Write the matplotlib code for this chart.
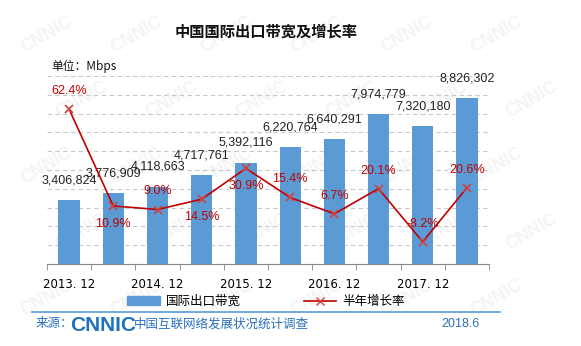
import matplotlib
matplotlib.use("Agg")
import matplotlib.pyplot as plt
from matplotlib.lines import Line2D
from matplotlib.patches import Patch

plt.rcParams['font.family'] = ['Liberation Sans', 'Noto Sans CJK SC', 'DejaVu Sans']

# datos
periodos = ['2013.12', '2014.06', '2014.12', '2015.06', '2015.12', '2016.06',
            '2016.12', '2017.06', '2017.12', '2018.06']
etiquetas_x = ['2013. 12', '', '2014. 12', '', '2015. 12', '', '2016. 12', '', '2017. 12', '']
ancho_banda = [3406824, 3776909, 4118663, 4717761, 5392116, 6220764,
               6640291, 7974779, 7320180, 8826302]
crecimiento = [62.4, 10.9, 9.0, 14.5, 30.9, 15.4, 6.7, 20.1, -8.2, 20.6]
# arriba (1) o abajo (-1) del punto
pos_pct = [1, -1, 1, -1, -1, 1, 1, 1, 1, 1]

azul = '#5b9bd5'
rojo = '#c00000'

fig = plt.figure(figsize=(5.81, 3.46), dpi=100)

# marca de agua (muy tenue, detras de todo, dentro de la figura)
for fila in range(5):
    for col in range(6):
        fig.text(0.08 + col * 0.155 + (fila % 2) * 0.06, 0.9 - fila * 0.19, 'CNNIC',
                 fontsize=13, fontweight='bold', color='#f4f4f4', rotation=30,
                 ha='center', va='center', zorder=-5)

ax = fig.add_axes([0.0809, 0.237, 0.7608, 0.543])
ax.patch.set_visible(False)
x = list(range(len(periodos)))
ax.bar(x, ancho_banda, width=0.48, color=azul, zorder=2)
ax.set_xlim(-0.5, 9.5)
ax.set_ylim(0, 10000000)
ax.set_yticks([i * 1000000 for i in range(1, 11)])
for s in ['top', 'right', 'left']:
    ax.spines[s].set_visible(False)
ax.spines['bottom'].set_color('#888888')
ax.set_xticks(x)
ax.set_xticklabels(etiquetas_x, fontsize=8.5, fontfamily=['DejaVu Sans'])
ax.set_xticks([i - 0.5 for i in range(11)], minor=True)

for xi, v in zip(x, ancho_banda):
    ax.annotate(f'{v:,}', (xi, v), xytext=(0, 10), textcoords='offset points',
                ha='center', va='bottom', fontsize=9, color='#222222')

ax2 = ax.twinx()
ax2.plot(x, crecimiento, color=rojo, linewidth=1.2, marker='x', markersize=6,
         markeredgecolor='#d04040', markeredgewidth=1.2, zorder=3)
ax2.set_ylim(-20, 80)
ax2.axis('off')
for xi, v, p in zip(x, crecimiento, pos_pct):
    ax2.annotate(f'{v}%', (xi, v), xytext=(0, 13 * p), textcoords='offset points',
                 ha='center', va='center', fontsize=9, color=rojo)

# twinx vuelve a poner los ticks de la izquierda, asi que se ajusta despues
ax.tick_params(axis='y', left=False, labelleft=False, right=False, labelright=False)
ax.tick_params(axis='x', which='major', length=0, pad=10)
ax.tick_params(axis='x', which='minor', length=4, color='#888888')
ax.yaxis.grid(True, linestyle=(0, (4, 3)), color='#c8c8c8', linewidth=0.8)
ax.set_axisbelow(True)

fig.text(0.458, 0.908, '中国国际出口带宽及增长率', ha='center', va='center',
         fontsize=11, fontweight='bold', color='#111111')
fig.text(0.088, 0.809, '单位：Mbps', ha='left', va='center', fontsize=8.5,
         fontfamily=['Noto Sans CJK SC'], color='#111111')

handles = [Patch(color=azul),
           Line2D([0], [0], color=rojo, marker='x', markersize=6,
                  markeredgecolor='#d04040', linewidth=1.2)]
fig.legend(handles, ['国际出口带宽', '半年增长率'], loc='center', ncol=2,
           bbox_to_anchor=(0.458, 0.128), frameon=False, fontsize=9,
           handlelength=2.6, columnspacing=5, handletextpad=0.5)

fig.add_artist(Line2D([0.055, 0.861], [0.099, 0.099], color=azul, linewidth=1.2))
fig.text(0.062, 0.063, '来源：', ha='left', va='center', fontsize=9, color='#2a6fbd')
fig.text(0.121, 0.059, 'CNNIC', ha='left', va='center', fontsize=15, fontweight='bold',
         color='#1e73be', fontfamily=['Liberation Sans'])
fig.text(0.231, 0.063, '中国互联网络发展状况统计调查', ha='left', va='center',
         fontsize=9, color='#2a6fbd')
fig.text(0.826, 0.063, '2018.6', ha='right', va='center', fontsize=9, color='#2a6fbd')

fig.savefig('out.png', dpi=100, facecolor='white')
